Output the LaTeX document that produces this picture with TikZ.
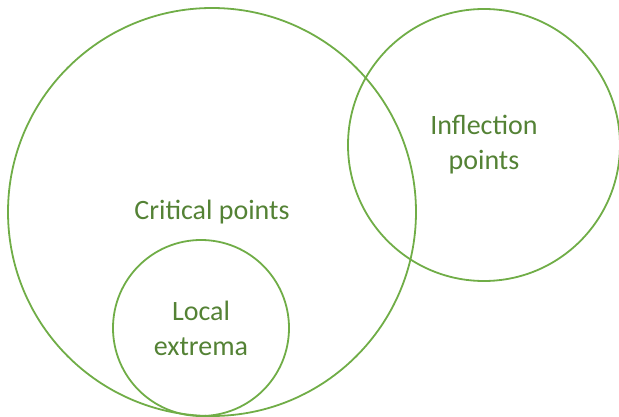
\documentclass[tikz,border=0pt]{standalone}
\usepackage{fontspec}
\setmainfont{Carlito}
\definecolor{setline}{HTML}{70AD47}
\definecolor{settext}{HTML}{548235}

\begin{document}
\begin{tikzpicture}[x=1pt,y=-1pt]
        \tikzset{set/.style={draw=setline,line width=1.8pt,circle,inner sep=0pt,
            text=settext,align=center,font=\fontsize{28}{35}\selectfont},
          big/.style={minimum size=408pt},
          mid/.style={minimum size=272pt},
          small/.style={minimum size=176pt}}
        \useasboundingbox (0,0) rectangle (619,417);
        \node[set,big] (crit) at (212,212) {Critical points};
        \node[set,mid] (infl) at (484,145) {Inflection\\points};
        \node[set,small] (ext) at (201,328) {Local\\extrema};
      \end{tikzpicture}
\end{document}
